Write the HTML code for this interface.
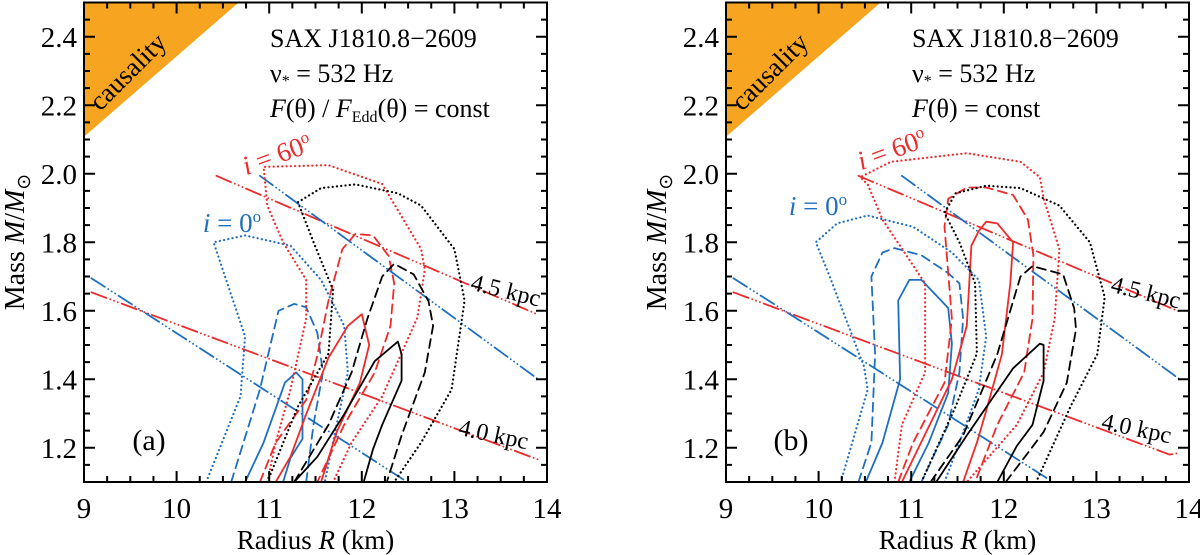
<!DOCTYPE html>
<html><head><meta charset="utf-8">
<style>
html,body{margin:0;padding:0;background:#fff;}
svg{display:block;font-family:"Liberation Serif",serif;}
svg text{font-family:"Liberation Serif",serif;}
</style></head>
<body>
<svg id="chart" width="1200" height="555" viewBox="0 0 1200 555" xmlns="http://www.w3.org/2000/svg" font-family="Liberation Serif, serif"></svg>
<script>
// ---- data ----
const xTicks = [9,10,11,12,13,14];
const yTicks = [1.2,1.4,1.6,1.8,2.0,2.2,2.4];
const xDomain = [9,14];
const yDomain = [1.1,2.5];
const causality = [[9,2.5],[10.67,2.5],[9,2.108]];

// panel a
const aDist40Red = [[9.08,1.654],[13.90,1.166]];
const aDist40Blue = [[9.08,1.695],[12.49,1.10]];
const aDist45Red = [[10.43,1.994],[13.90,1.589]];
const aDist45Blue = [[10.90,1.994],[13.90,1.401]];
const aBlueDot = [[10.32,1.10],[10.69,1.35],[10.74,1.525],[10.40,1.80],[10.74,1.82],[11.23,1.79],[11.56,1.69],[11.81,1.556],[11.85,1.42],[11.73,1.27],[11.60,1.10]];
const aBlueDash = [[10.59,1.10],[10.90,1.37],[11.10,1.60],[11.27,1.62],[11.40,1.61],[11.52,1.535],[11.58,1.42],[11.48,1.27],[11.40,1.10]];
const aBlueSolid = [[10.74,1.10],[10.94,1.215],[11.17,1.39],[11.29,1.42],[11.36,1.40],[11.36,1.226],[11.23,1.17],[11.15,1.10]];
const aRedDot = [[10.98,1.10],[11.07,1.215],[11.23,1.37],[11.40,1.577],[11.40,1.69],[11.15,1.80],[10.98,1.907],[10.94,2.02],[11.64,2.025],[12.22,1.97],[12.64,1.78],[12.68,1.72],[12.60,1.58],[12.22,1.35],[11.89,1.215],[11.69,1.10]];
const aRedDash = [[10.90,1.10],[11.07,1.215],[11.40,1.34],[11.52,1.47],[11.64,1.63],[11.79,1.78],[11.93,1.824],[12.12,1.82],[12.29,1.76],[12.35,1.68],[12.31,1.556],[12.14,1.42],[11.81,1.267],[11.52,1.10]];
const aRedSolid = [[11.07,1.10],[11.23,1.174],[11.40,1.298],[11.64,1.463],[11.85,1.556],[12.0,1.59],[12.08,1.50],[11.98,1.39],[11.73,1.247],[11.56,1.10]];
const aBlackDot = [[10.98,1.10],[11.31,1.32],[11.64,1.475],[11.69,1.66],[11.48,1.80],[11.31,1.917],[11.56,1.958],[11.93,1.969],[12.39,1.943],[12.64,1.907],[13.0,1.78],[13.11,1.63],[12.97,1.37],[12.64,1.215],[12.35,1.10]];
const aBlackDash = [[11.27,1.10],[11.64,1.267],[11.89,1.42],[12.06,1.577],[12.22,1.70],[12.35,1.737],[12.56,1.706],[12.72,1.628],[12.77,1.556],[12.68,1.42],[12.43,1.236],[12.27,1.10]];
const aBlackSolid = [[11.27,1.10],[11.52,1.174],[11.81,1.298],[12.14,1.453],[12.39,1.51],[12.43,1.473],[12.43,1.396],[12.22,1.267],[12.12,1.195],[12.02,1.10]];

// panel b
const bDist40Red = [[9.08,1.654],[13.79,1.18],[13.90,1.185]];
const bDist40Blue = [[9.08,1.695],[12.53,1.10]];
const bDist45Red = [[10.43,1.994],[13.90,1.597]];
const bDist45Blue = [[10.90,1.994],[13.90,1.40]];
const bBlueDot = [[10.24,1.10],[10.53,1.37],[10.49,1.437],[10.12,1.70],[9.97,1.80],[10.20,1.855],[10.53,1.878],[11.02,1.845],[11.44,1.77],[11.73,1.69],[11.81,1.525],[11.73,1.37],[11.52,1.215],[11.36,1.10]];
const bBlueDash = [[10.43,1.10],[10.57,1.215],[10.61,1.473],[10.57,1.70],[10.69,1.77],[10.82,1.783],[11.11,1.762],[11.40,1.71],[11.52,1.68],[11.56,1.577],[11.52,1.42],[11.40,1.267],[11.11,1.10]];
const bBlueSolid = [[10.51,1.10],[10.69,1.215],[10.88,1.40],[10.86,1.63],[10.98,1.69],[11.11,1.69],[11.40,1.608],[11.44,1.504],[11.40,1.36],[11.19,1.215],[10.98,1.10]];
const bRedDot = [[10.82,1.10],[10.90,1.267],[11.15,1.42],[11.15,1.68],[10.69,1.866],[10.53,1.969],[10.45,1.99],[10.78,2.035],[11.60,2.06],[12.18,2.035],[12.39,1.99],[12.43,1.928],[12.60,1.78],[12.55,1.577],[12.43,1.42],[12.14,1.267],[11.60,1.10]];
const bRedDash = [[10.86,1.10],[11.02,1.215],[11.36,1.39],[11.44,1.577],[11.36,1.845],[11.40,1.927],[11.60,1.96],[11.81,1.96],[12.10,1.938],[12.26,1.866],[12.32,1.762],[12.31,1.577],[12.22,1.42],[11.93,1.267],[11.69,1.10]];
const bRedSolid = [[10.90,1.10],[11.07,1.195],[11.44,1.40],[11.60,1.556],[11.65,1.79],[11.73,1.833],[11.81,1.86],[11.93,1.855],[12.10,1.80],[12.07,1.68],[11.98,1.473],[11.81,1.308],[11.71,1.215],[11.56,1.10]];
const bBlackDot = [[11.11,1.10],[11.48,1.32],[11.71,1.475],[11.69,1.68],[11.52,1.80],[11.36,1.886],[11.48,1.943],[11.81,1.965],[12.18,1.958],[12.60,1.907],[12.93,1.80],[13.09,1.64],[13.01,1.473],[12.72,1.32],[12.35,1.10]];
const bBlackDash = [[11.21,1.10],[11.56,1.236],[11.93,1.473],[12.10,1.628],[12.18,1.70],[12.31,1.73],[12.64,1.706],[12.76,1.607],[12.78,1.546],[12.68,1.39],[12.43,1.246],[12.26,1.185],[12.02,1.10]];
const bBlackSolid = [[11.27,1.10],[11.60,1.236],[12.10,1.432],[12.39,1.504],[12.43,1.50],[12.43,1.396],[12.31,1.267],[12.14,1.205],[11.93,1.10]];

// ---- drawing ----
const NS = "http://www.w3.org/2000/svg";
const svg = document.getElementById('chart');
const BLUE = "#1f6fc0", RED = "#ee2a2a", BLACK = "#000", ORANGE = "#f7a520";
const DOT = "0.1 4.2", DASH = "9 5.5", DDD = "16 4 0.1 4 0.1 4 0.1 4";
const FF = "Liberation Serif, serif";

function mk(tag, attrs, parent){
  const el = document.createElementNS(NS, tag);
  for (const k in attrs) el.setAttribute(k, attrs[k]);
  if (tag === 'text') el.setAttribute('font-family', FF);
  (parent || svg).appendChild(el);
  return el;
}

function panel(px0, id, letter, formula, series, dists, labels){
  const X0 = px0, X1 = px0 + 463, Y0 = 2.5, Y1 = 482;
  const sx = v => X0 + (v - xDomain[0]) / (xDomain[1] - xDomain[0]) * (X1 - X0);
  const sy = v => Y1 - (v - yDomain[0]) / (yDomain[1] - yDomain[0]) * (Y1 - Y0);
  const g = mk('g', {});
  
  
  const clipId = 'clip' + id;
  const cp = mk('clipPath', {id: clipId}, g);
  mk('rect', {x: X0, y: Y0, width: X1 - X0, height: Y1 - Y0}, cp);
  const plot = mk('g', {'clip-path': 'url(#' + clipId + ')'}, g);

  const tri = mk('polygon', {points: causality.map(p => sx(p[0]) + ',' + sy(p[1])).join(' '), fill: ORANGE}, plot);
  
  

  const pathD = pts => pts.map((p, i) => (i ? 'L' : 'M') + sx(p[0]).toFixed(1) + ' ' + sy(p[1]).toFixed(1)).join(' ');
  dists.forEach(d => {
    const el = mk('path', {d: pathD(d.pts), fill: 'none', stroke: d.color, 'stroke-width': 1.8, 'stroke-dasharray': DDD, 'stroke-linecap': 'round'}, plot);
    
    
  });
  series.forEach(s => {
    const el = mk('path', {d: pathD(s.pts), fill: 'none', stroke: s.color, 'stroke-width': s.dash === DOT ? 2.2 : 1.8, 'stroke-linecap': 'round', 'stroke-linejoin': 'round'}, plot);
    if (s.dash) el.setAttribute('stroke-dasharray', s.dash);
    
    
  });

  const fr = mk('rect', {x: X0, y: Y0, width: X1 - X0, height: Y1 - Y0, fill: 'none', stroke: '#000', 'stroke-width': 2}, g);
  
  
  let td = '';
  for (let v = 9; v <= 14.001; v += 0.25) {
    const major = Math.abs(v - Math.round(v)) < 1e-6, L = major ? 11 : 6, x = sx(v);
    td += `M${x} ${Y1}v${-L}M${x} ${Y0}v${L}`;
  }
  for (let v = 1.1; v <= 2.5001; v += 0.05) {
    const major = Math.abs(v * 5 - Math.round(v * 5)) < 1e-6, L = major ? 11 : 6, y = sy(v);
    td += `M${X0} ${y}h${L}M${X1} ${y}h${-L}`;
  }
  const tk = mk('path', {d: td, stroke: '#000', 'stroke-width': 2, fill: 'none'}, g);
  
  

  xTicks.forEach(v => {
    const t = mk('text', {x: sx(v), y: 518, 'text-anchor': 'middle', 'font-size': 29}, g);
    t.textContent = v;
    
    
  });
  yTicks.forEach(v => {
    const t = mk('text', {x: X0 - 7, y: sy(v) + 10, 'text-anchor': 'end', 'font-size': 29}, g);
    t.textContent = v.toFixed(1);
    
    
  });
  const xt = mk('text', {x: (X0 + X1) / 2, y: 549, 'text-anchor': 'middle', 'font-size': 27}, g);
  xt.innerHTML = 'Radius <tspan font-style="italic">R</tspan> (km)';
  
  
  const yt = mk('text', {x: 0, y: 0, 'text-anchor': 'middle', 'font-size': 28, transform: `translate(${X0 - 60},242) rotate(-90)`}, g);
  yt.innerHTML = 'Mass <tspan font-style="italic">M</tspan>/<tspan font-style="italic">M</tspan><tspan font-size="19" dy="6">⊙</tspan>';
  
  

  const cz = mk('text', {x: 0, y: 0, 'text-anchor': 'middle', 'font-size': 27, transform: `translate(${X0 + 50},${78}) rotate(-45)`}, g);
  cz.textContent = 'causality';
  
  
  const lines = ['SAX J1810.8−2609', 'ν<tspan font-size="16" dy="4">*</tspan><tspan dy="-4"> = 532 Hz</tspan>', formula];
  lines.forEach((s, i) => {
    const t = mk('text', {x: X0 + 186, y: 47 + i * 35, 'font-size': 26}, g);
    t.innerHTML = s;
    
    
  });
  labels.forEach(l => {
    const t = mk('text', {x: 0, y: 0, 'text-anchor': 'middle', 'font-size': l.fs || 24, fill: l.color, transform: `translate(${X0 + l.x},${l.y}) rotate(${l.rot})`}, g);
    t.innerHTML = l.html;
    
    
  });
  const pl = mk('text', {x: X0 + 65, y: 450, 'text-anchor': 'middle', 'font-size': 30}, g);
  pl.textContent = '(' + letter + ')';
  
  
}

function mkSeries(blueDot, blueDash, blueSolid, redDot, redDash, redSolid, blackDot, blackDash, blackSolid){
  return [
    {name: 'contour-i0-outer', pts: blueDot, color: BLUE, dash: DOT},
    {name: 'contour-i0-mid', pts: blueDash, color: BLUE, dash: DASH},
    {name: 'contour-i0-inner', pts: blueSolid, color: BLUE},
    {name: 'contour-i60-outer', pts: redDot, color: RED, dash: DOT},
    {name: 'contour-i60-mid', pts: redDash, color: RED, dash: DASH},
    {name: 'contour-i60-inner', pts: redSolid, color: RED},
    {name: 'contour-black-outer', pts: blackDot, color: BLACK, dash: DOT},
    {name: 'contour-black-mid', pts: blackDash, color: BLACK, dash: DASH},
    {name: 'contour-black-inner', pts: blackSolid, color: BLACK}
  ];
}

const italicI = '<tspan font-style="italic">i</tspan>';
panel(84, 'a', 'a',
  '<tspan font-style="italic">F</tspan>(θ) / <tspan font-style="italic">F</tspan><tspan font-size="16" dy="5">Edd</tspan><tspan dy="-5">(θ) = const</tspan>',
  mkSeries(aBlueDot, aBlueDash, aBlueSolid, aRedDot, aRedDash, aRedSolid, aBlackDot, aBlackDash, aBlackSolid),
  [{name: 'distance-4.0-kpc-red', pts: aDist40Red, color: RED},
   {name: 'distance-4.0-kpc-blue', pts: aDist40Blue, color: BLUE},
   {name: 'distance-4.5-kpc-red', pts: aDist45Red, color: RED},
   {name: 'distance-4.5-kpc-blue', pts: aDist45Blue, color: BLUE}],
  [{name: 'label-i60', html: italicI + ' = 60<tspan font-size="17" dy="-10">o</tspan>', color: RED, x: 196, y: 163, rot: -20, fs: 27},
   {name: 'label-i0', html: italicI + ' = 0<tspan font-size="17" dy="-10">o</tspan>', color: BLUE, x: 148, y: 232, rot: 0, fs: 27},
   {name: 'label-4.5-kpc', html: '4.5 kpc', color: '#000', x: 420, y: 298, rot: 14},
   {name: 'label-4.0-kpc', html: '4.0 kpc', color: '#000', x: 408, y: 442, rot: 12}]
);
panel(726, 'b', 'b',
  '<tspan font-style="italic">F</tspan>(θ) = const',
  mkSeries(bBlueDot, bBlueDash, bBlueSolid, bRedDot, bRedDash, bRedSolid, bBlackDot, bBlackDash, bBlackSolid),
  [{name: 'distance-4.0-kpc-red', pts: bDist40Red, color: RED},
   {name: 'distance-4.0-kpc-blue', pts: bDist40Blue, color: BLUE},
   {name: 'distance-4.5-kpc-red', pts: bDist45Red, color: RED},
   {name: 'distance-4.5-kpc-blue', pts: bDist45Blue, color: BLUE}],
  [{name: 'label-i60', html: italicI + ' = 60<tspan font-size="17" dy="-10">o</tspan>', color: RED, x: 169, y: 158, rot: -20, fs: 27},
   {name: 'label-i0', html: italicI + ' = 0<tspan font-size="17" dy="-10">o</tspan>', color: BLUE, x: 92, y: 215, rot: 0, fs: 27},
   {name: 'label-4.5-kpc', html: '4.5 kpc', color: '#000', x: 418, y: 300, rot: 14},
   {name: 'label-4.0-kpc', html: '4.0 kpc', color: '#000', x: 409, y: 436, rot: 12}]
);
</script>
</body></html>
